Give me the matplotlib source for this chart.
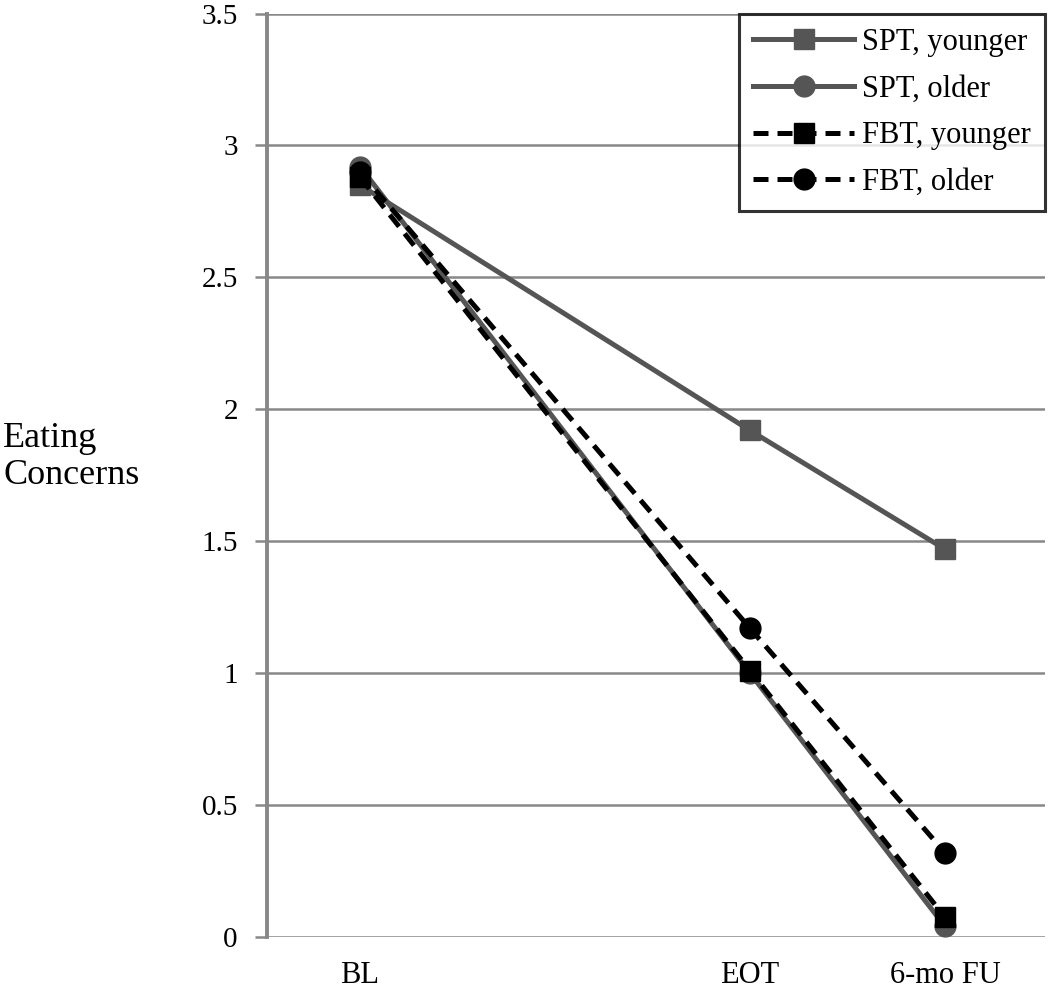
import matplotlib.pyplot as plt

plt.rcParams['font.family'] = ['Liberation Serif', 'DejaVu Serif']

# time points (position proportional to spacing in the original)
timepoints = ["BL", "EOT", "6-mo FU"]
x_pos = [0, 2, 3]

spt_younger = [2.85, 1.92, 1.47]
spt_older = [2.92, 1.00, 0.04]
fbt_younger = [2.88, 1.01, 0.075]
fbt_older = [2.90, 1.17, 0.32]

gray = '#555555'
lw = 3.6
ms = 15

fig = plt.figure(figsize=(10.5, 9.89), dpi=100)
ax = fig.add_axes([0.2543, 0.0526, 0.7409, 0.9337])

ax.plot(x_pos, spt_younger, color=gray, lw=lw, marker='s', ms=ms, label='SPT, younger')
ax.plot(x_pos, spt_older, color=gray, lw=lw, marker='o', ms=ms, label='SPT, older')
ax.plot(x_pos, fbt_younger, color='black', lw=lw, ls=(0, (3, 1.8)), marker='s', ms=ms,
        label='FBT, younger')
ax.plot(x_pos, fbt_older, color='black', lw=lw, ls=(0, (3, 1.8)), marker='o', ms=ms,
        label='FBT, older')

ax.set_xlim(-0.477, 3.513)
ax.set_ylim(0, 3.5)
ax.set_yticks([0, 0.5, 1, 1.5, 2, 2.5, 3, 3.5])
ax.set_yticklabels(['0', '0.5', '1', '1.5', '2', '2.5', '3', '3.5'])
ax.set_xticks(x_pos)
ax.set_xticklabels(timepoints)

ax.grid(axis='y', color='#888888', lw=1.8)
ax.set_axisbelow(True)
for s in ['top', 'right', 'bottom']:
    ax.spines[s].set_visible(False)
ax.spines['left'].set_color('#888888')
ax.spines['left'].set_linewidth(2.8)
ax.tick_params(axis='y', length=9, width=1.8, color='#888888', labelsize=21, pad=12)
ax.tick_params(axis='x', length=0, labelsize=22, pad=17)

fig.text(0.003, 0.538, 'Eating\nConcerns', fontsize=26, ha='left', va='center',
         linespacing=1.15)

leg = ax.legend(loc='upper right', bbox_to_anchor=(1.0, 1.0), fontsize=22, frameon=True,
                fancybox=False, edgecolor='black', handlelength=3.3, borderpad=0.47,
                labelspacing=0.58, handletextpad=0.25, borderaxespad=0)
leg.get_frame().set_linewidth(2.2)

fig.savefig('out.png', dpi=100)
